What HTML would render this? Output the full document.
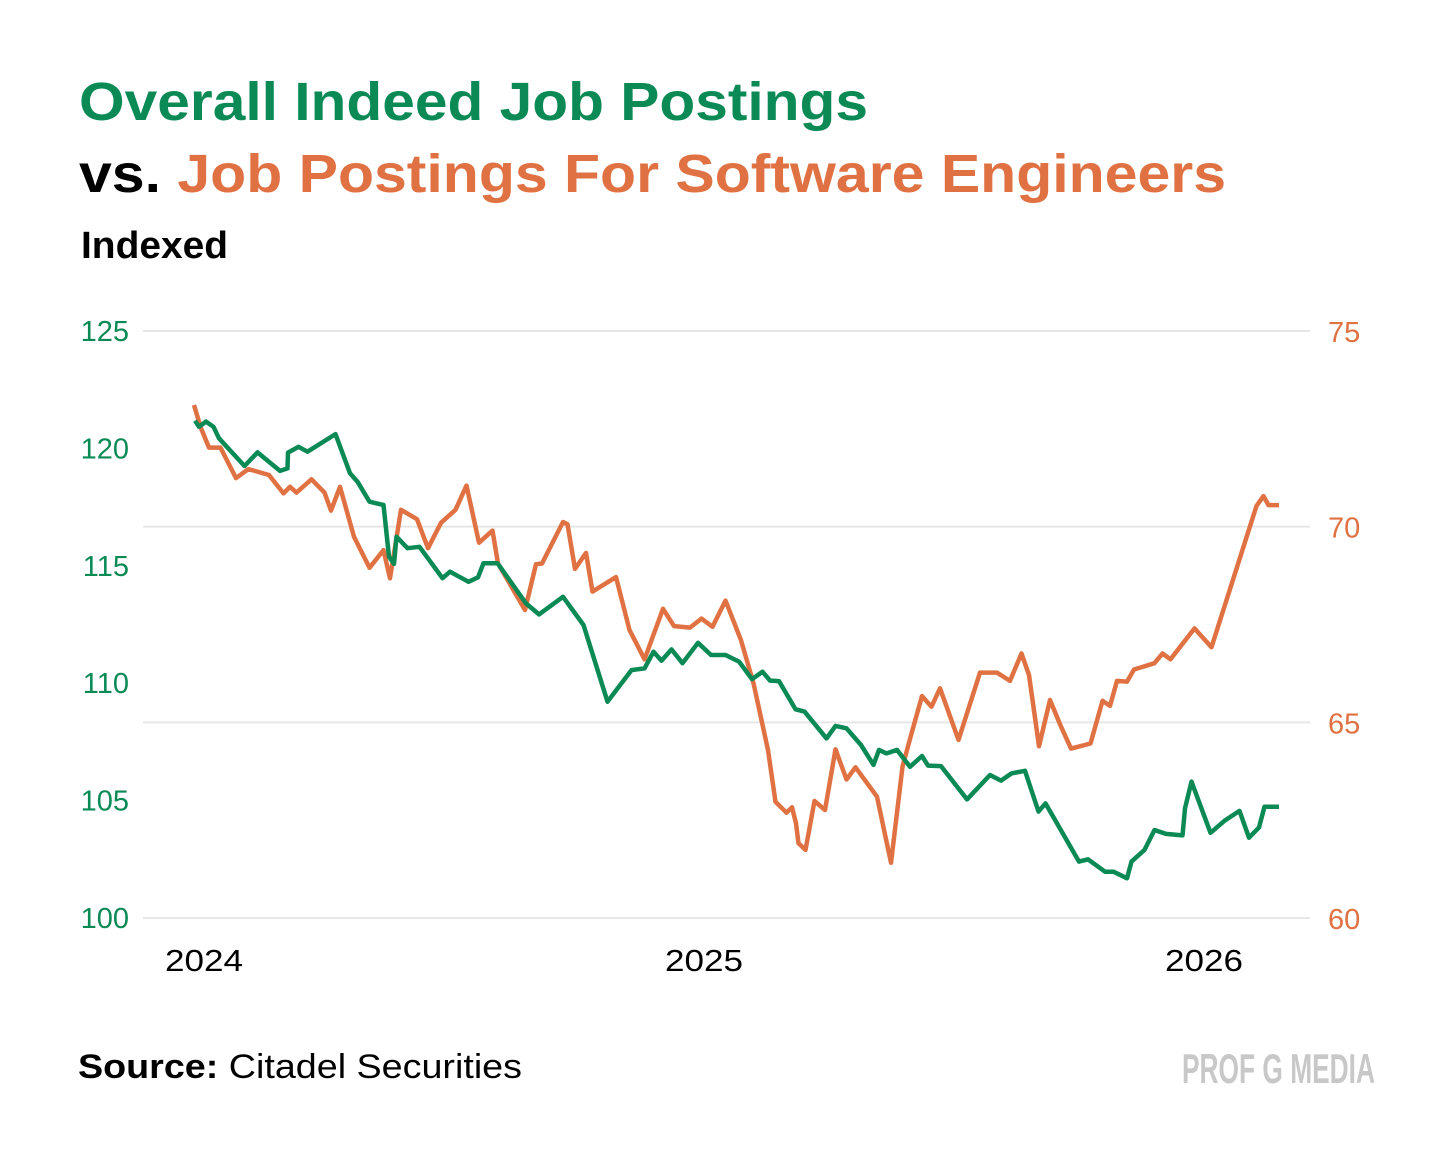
<!DOCTYPE html>
<html><head><meta charset="utf-8"><style>
html,body{margin:0;padding:0;background:#fff;}
svg{display:block;}
text{font-family:"Liberation Sans",sans-serif;}
</style></head><body>
<svg id="chart" width="1456" height="1152" viewBox="0 0 1456 1152" xmlns="http://www.w3.org/2000/svg">
<rect width="1456" height="1152" fill="#fff"/>
<text x="79" y="120" font-size="54" font-weight="bold" fill="#0b8a56" textLength="789" lengthAdjust="spacingAndGlyphs">Overall Indeed Job Postings</text>
<text x="79" y="192" font-size="54" font-weight="bold" textLength="1147" lengthAdjust="spacingAndGlyphs"><tspan fill="#000">vs. </tspan><tspan fill="#e07142">Job Postings For Software Engineers</tspan></text>
<text x="81" y="258" font-size="38" font-weight="bold" fill="#000" textLength="147" lengthAdjust="spacingAndGlyphs">Indexed</text>
<g id="grid"></g>
<g id="lticks"></g>
<g id="rticks"></g>
<g id="xticks"></g>
<g id="series"></g>
<text x="78" y="1078" font-size="34" fill="#000" textLength="444" lengthAdjust="spacingAndGlyphs"><tspan font-weight="bold">Source:</tspan> Citadel Securities</text>
<text x="1182" y="1083" font-size="42" font-weight="bold" fill="#c8c8c8" textLength="193" lengthAdjust="spacingAndGlyphs">PROF G MEDIA</text>
</svg>
<script>
const leftTicks=[100,105,110,115,120,125];
const rightTicks=[60,65,70,75];
const xTickLabels=["2024","2025","2026"];
const xTickYears=[2024,2025,2026];
const greenT=[2023.982,2023.990,2024.004,2024.019,2024.030,2024.081,2024.107,2024.152,2024.167,2024.168,2024.189,2024.207,2024.263,2024.292,2024.307,2024.331,2024.359,2024.370,2024.380,2024.385,2024.407,2024.431,2024.477,2024.492,2024.529,2024.548,2024.559,2024.587,2024.644,2024.670,2024.718,2024.759,2024.807,2024.855,2024.881,2024.899,2024.915,2024.935,2024.957,2024.988,2025.014,2025.043,2025.070,2025.096,2025.117,2025.132,2025.150,2025.183,2025.201,2025.245,2025.263,2025.285,2025.314,2025.339,2025.350,2025.365,2025.386,2025.412,2025.436,2025.448,2025.474,2025.526,2025.572,2025.594,2025.615,2025.642,2025.669,2025.683,2025.750,2025.768,2025.802,2025.819,2025.846,2025.855,2025.881,2025.901,2025.924,2025.957,2025.962,2025.975,2026.013,2026.041,2026.071,2026.090,2026.110,2026.121,2026.150];
const greenV=[121.18,120.92,121.14,120.92,120.43,119.25,119.83,119.04,119.15,119.82,120.07,119.86,120.61,118.94,118.58,117.73,117.59,115.39,115.08,116.24,115.75,115.81,114.47,114.75,114.32,114.51,115.11,115.11,113.40,112.93,113.68,112.48,109.21,110.56,110.63,111.34,110.96,111.44,110.85,111.72,111.20,111.20,110.92,110.17,110.49,110.11,110.09,108.89,108.79,107.65,108.18,108.08,107.37,106.52,107.16,107.01,107.16,106.44,106.90,106.49,106.47,105.05,106.09,105.85,106.16,106.27,104.53,104.88,102.40,102.50,101.97,101.97,101.69,102.40,102.90,103.75,103.58,103.52,104.67,105.81,103.63,104.14,104.56,103.42,103.86,104.74,104.74];
const orangeT=[2023.980,2023.993,2024.010,2024.033,2024.064,2024.089,2024.130,2024.159,2024.172,2024.185,2024.215,2024.241,2024.254,2024.272,2024.300,2024.331,2024.359,2024.372,2024.394,2024.426,2024.448,2024.474,2024.503,2024.525,2024.550,2024.577,2024.588,2024.642,2024.664,2024.676,2024.718,2024.727,2024.742,2024.764,2024.777,2024.824,2024.851,2024.881,2024.918,2024.940,2024.972,2024.995,2025.017,2025.043,2025.074,2025.099,2025.128,2025.143,2025.165,2025.176,2025.184,2025.189,2025.203,2025.221,2025.242,2025.263,2025.285,2025.303,2025.346,2025.374,2025.397,2025.416,2025.436,2025.455,2025.472,2025.509,2025.552,2025.586,2025.612,2025.635,2025.650,2025.670,2025.692,2025.714,2025.734,2025.773,2025.797,2025.812,2025.826,2025.846,2025.860,2025.901,2025.917,2025.933,2025.981,2026.015,2026.105,2026.119,2026.129,2026.150];
const orangeV=[73.11,72.55,72.02,72.02,71.24,71.47,71.32,70.85,71.02,70.87,71.21,70.87,70.41,71.02,69.74,68.95,69.40,68.68,70.43,70.19,69.45,70.10,70.43,71.05,69.59,69.90,69.06,67.87,69.04,69.06,70.12,70.06,68.92,69.33,68.34,68.71,67.36,66.61,67.90,67.46,67.42,67.65,67.44,68.11,67.10,66.00,64.29,62.97,62.69,62.83,62.42,61.91,61.74,62.99,62.76,64.31,63.54,63.85,63.10,61.41,63.87,64.76,65.67,65.40,65.87,64.55,66.27,66.27,66.06,66.76,66.21,64.39,65.57,64.89,64.33,64.46,65.55,65.42,66.06,66.04,66.35,66.51,66.76,66.61,67.40,66.92,70.53,70.78,70.55,70.55];

const NS="http://www.w3.org/2000/svg";
const GREEN="#0b8a56", ORANGE="#e07142";
function xScale(t){return 204+(t-2024)*500;}
function yLeft(v){return 918-(v-100)*(587/25);}
function yRight(v){return 918-(v-60)*(587/15);}
function mk(tag,attrs,parent){const e=document.createElementNS(NS,tag);for(const k in attrs)e.setAttribute(k,attrs[k]);parent.appendChild(e);return e;}

const grid=document.getElementById('grid');
rightTicks.forEach(v=>{
  const l=mk('line',{x1:143,x2:1310,y1:yRight(v),y2:yRight(v),stroke:'#e6e6e6','stroke-width':2},grid);
  
  
});
const lt=document.getElementById('lticks');
leftTicks.forEach(v=>{
  const t=mk('text',{x:129,y:yLeft(v)+10,'font-size':29,fill:GREEN,'text-anchor':'end'},lt);
  t.textContent=v;
  
  
});
const rt=document.getElementById('rticks');
rightTicks.forEach(v=>{
  const t=mk('text',{x:1328,y:yRight(v)+11,'font-size':29,fill:ORANGE},rt);
  t.textContent=v;
  
  
});
const xt=document.getElementById('xticks');
xTickYears.forEach((y,i)=>{
  const t=mk('text',{x:xScale(y),y:971,'font-size':31,fill:'#000','text-anchor':'middle',textLength:78,lengthAdjust:'spacingAndGlyphs'},xt);
  t.textContent=xTickLabels[i];
  
  
});
const sg=document.getElementById('series');
function line(T,V,ys,color,name){
  const d=T.map((t,i)=>(i?'L':'M')+xScale(t).toFixed(1)+' '+ys(V[i]).toFixed(1)).join(' ');
  const p=mk('path',{d:d,fill:'none',stroke:color,'stroke-width':4.5,'stroke-linejoin':'round','stroke-linecap':'butt'},sg);
  
  
}
line(orangeT,orangeV,yRight,ORANGE,'software-engineer-postings-line');
line(greenT,greenV,yLeft,GREEN,'overall-postings-line');
</script>
</body></html>
